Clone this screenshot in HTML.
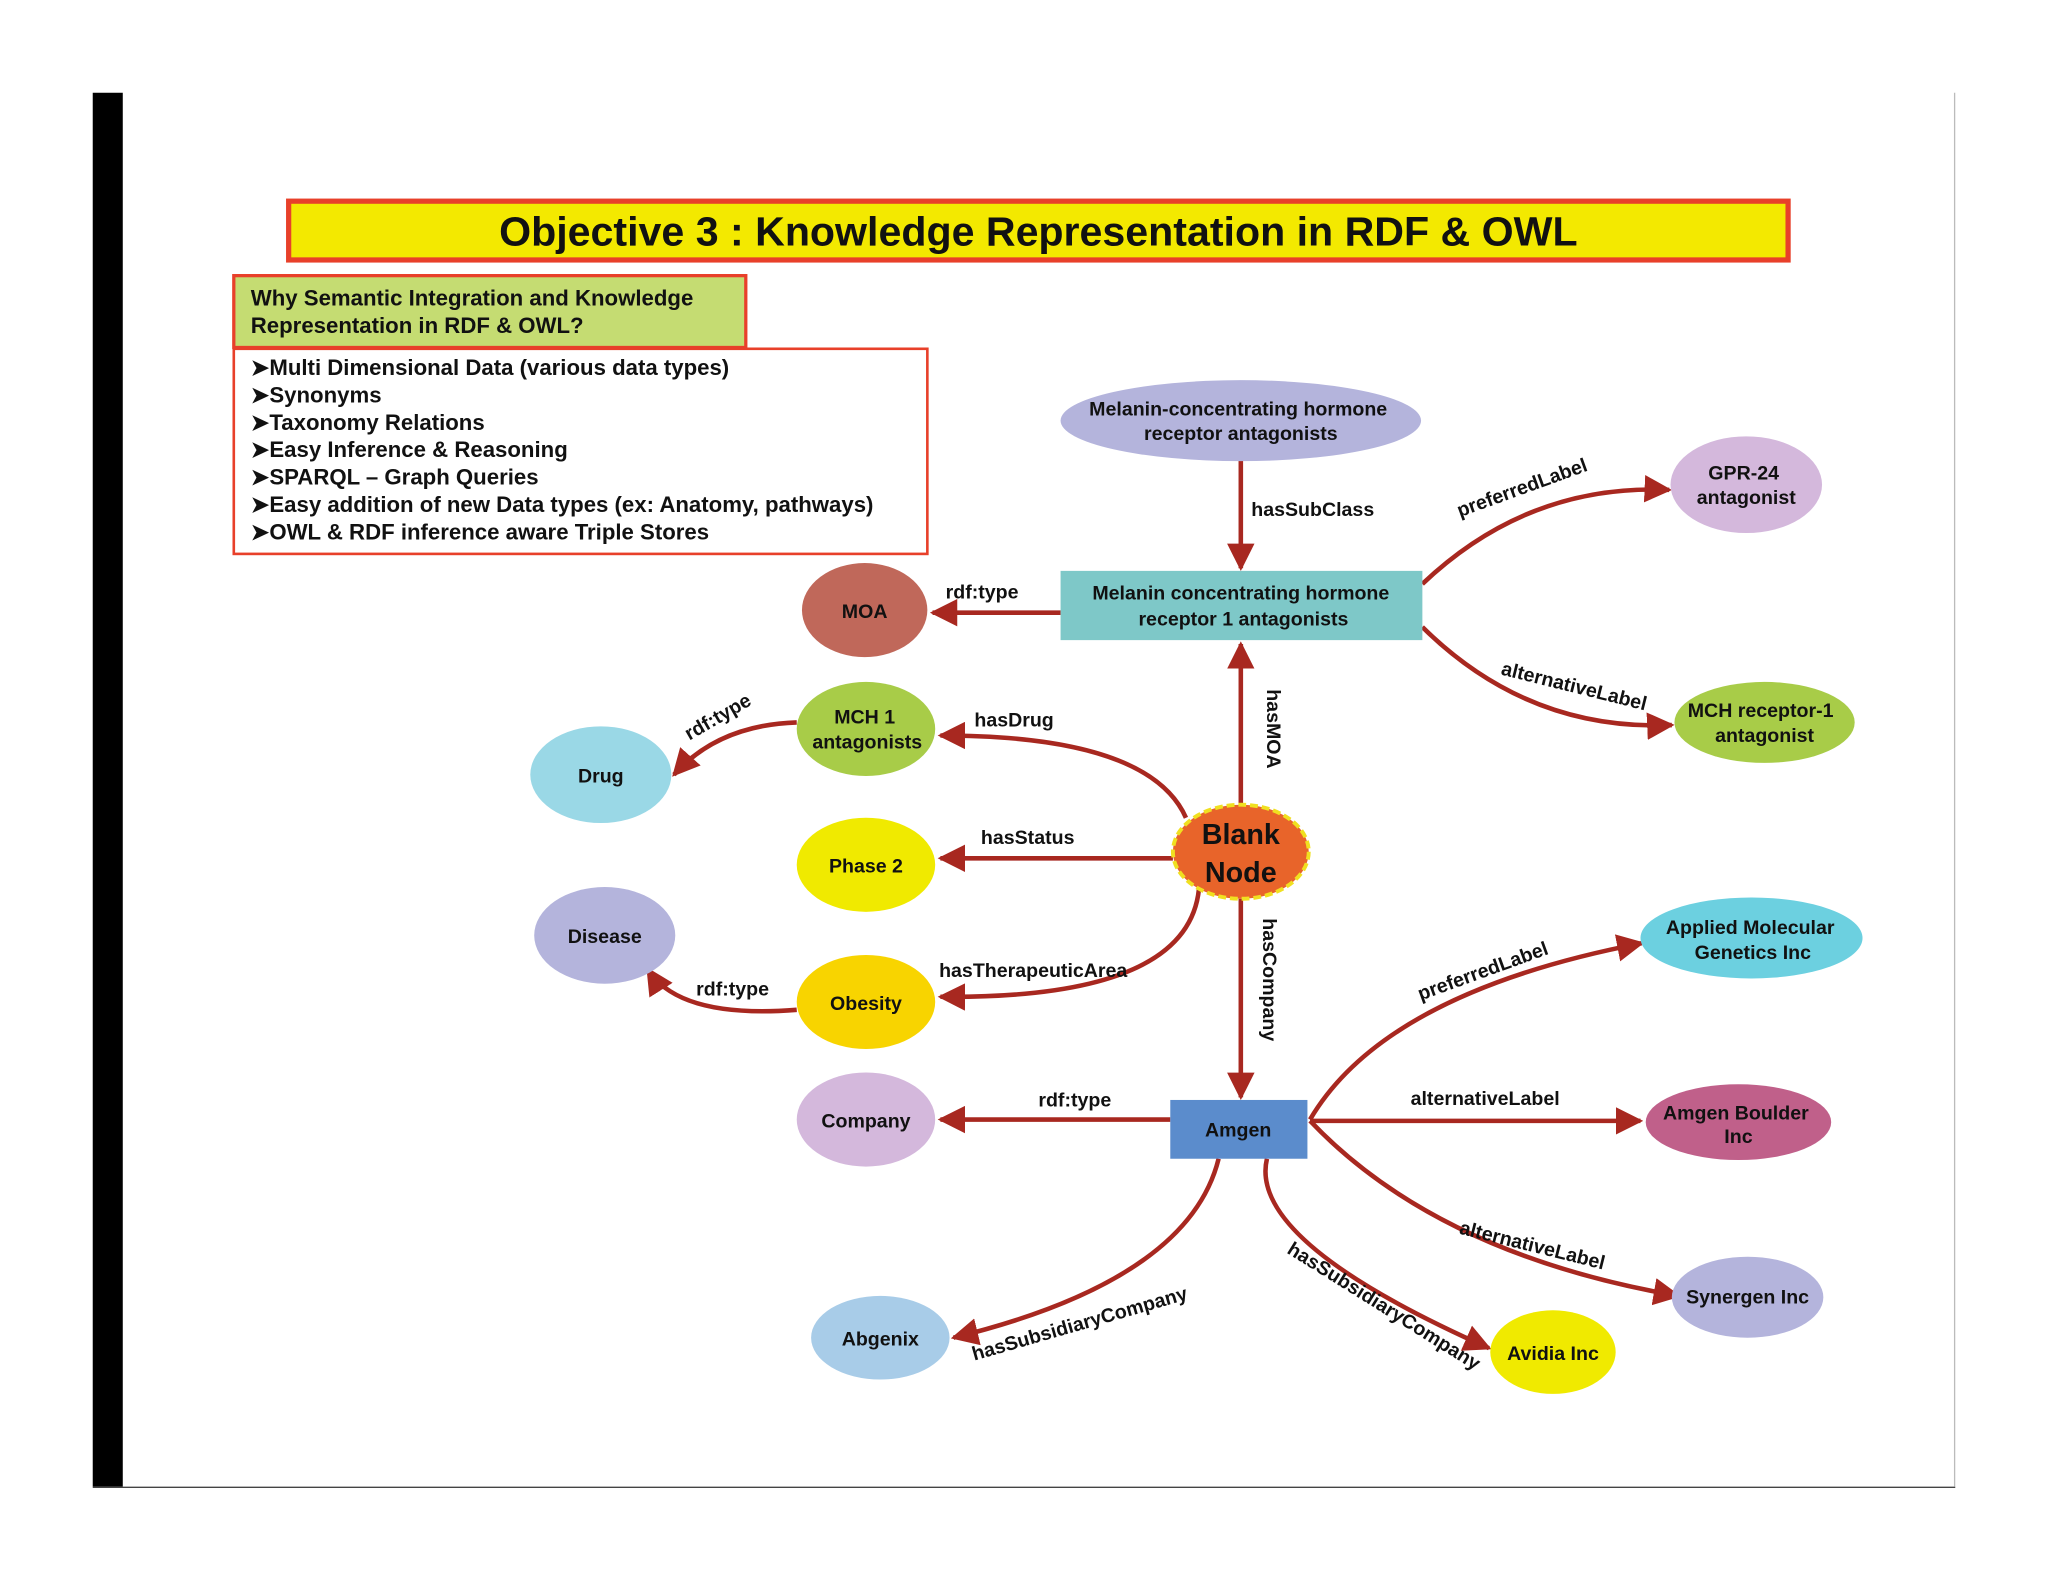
<!DOCTYPE html>
<html><head><meta charset="utf-8"><style>
html,body{margin:0;padding:0;background:#fff}
svg{display:block}
text{font-family:"Liberation Sans",Arial,sans-serif;font-weight:bold;fill:#111}
</style></head><body>
<svg width="2048" height="1582" viewBox="0 0 1568 1211" preserveAspectRatio="none" xmlns="http://www.w3.org/2000/svg">
<defs>
<marker id="a" viewBox="0 0 10 10" refX="9" refY="5" markerWidth="6" markerHeight="6" markerUnits="strokeWidth" orient="auto"><path d="M0,0 L10,5 L0,10 z" fill="#a82820"/></marker>
</defs>
<rect x="71" y="71" width="23" height="1067" fill="#000"/>
<line x1="71" y1="1138.5" x2="1497" y2="1138.5" stroke="#444" stroke-width="1"/>
<line x1="1496.5" y1="71" x2="1496.5" y2="1138" stroke="#bbb" stroke-width="1"/>

<rect x="221" y="154" width="1148" height="45" fill="#f3e900" stroke="#e8402a" stroke-width="4"/>
<text x="795" y="188" font-size="31.5" text-anchor="middle">Objective 3 : Knowledge Representation in RDF &amp; OWL</text>

<rect x="179" y="211" width="392" height="55" fill="#c5dc72" stroke="#e8402a" stroke-width="2.5"/>
<text x="192" y="234" font-size="17">Why Semantic Integration and  Knowledge</text>
<text x="192" y="255" font-size="17">Representation in RDF &amp; OWL?</text>
<rect x="179" y="267" width="531" height="157" fill="#fff" stroke="#e8402a" stroke-width="2"/>
<g font-size="17">
<text x="192" y="287">➤Multi Dimensional Data (various data types)</text>
<text x="192" y="308">➤Synonyms</text>
<text x="192" y="329">➤Taxonomy Relations</text>
<text x="192" y="350">➤Easy Inference &amp; Reasoning</text>
<text x="192" y="371">➤SPARQL – Graph Queries</text>
<text x="192" y="392">➤Easy addition of  new Data types (ex: Anatomy, pathways)</text>
<text x="192" y="413">➤OWL &amp; RDF inference aware Triple Stores</text>
</g>

<g stroke="#a82820" stroke-width="3.5" fill="none" marker-end="url(#a)">
<path d="M950,352 L950,435"/>
<path d="M812,469 L714,469"/>
<path d="M1089,447 Q1170,370 1278,375"/>
<path d="M1089,480 Q1170,560 1280,555"/>
<path d="M950,616 L950,493"/>
<path d="M908,626 Q880,563 720,563"/>
<path d="M610,553 Q550,555 516,593"/>
<path d="M898,657 L720,657"/>
<path d="M918,680 Q910,765 720,763"/>
<path d="M610,773 Q520,780 496,742"/>
<path d="M950,688 L950,840"/>
<path d="M896,857 L720,857"/>
<path d="M1003,857 Q1060,760 1257,722"/>
<path d="M1003,858 L1256,858"/>
<path d="M1003,858 Q1100,960 1285,992"/>
<path d="M933,887 Q910,980 730,1024"/>
<path d="M970,887 Q955,950 1140,1032"/>
</g>

<g font-size="15">
<text x="958" y="395">hasSubClass</text>
<text x="724" y="458">rdf:type</text>
<text x="1167" y="378" text-anchor="middle" transform="rotate(-20 1167 378)">preferredLabel</text>
<text x="1204" y="530" text-anchor="middle" transform="rotate(14 1204 530)">alternativeLabel</text>
<text x="970" y="558" text-anchor="middle" transform="rotate(90 970 558)">hasMOA</text>
<text x="746" y="556">hasDrug</text>
<text x="552" y="553" text-anchor="middle" transform="rotate(-30 552 553)">rdf:type</text>
<text x="751" y="646">hasStatus</text>
<text x="719" y="748">hasTherapeuticArea</text>
<text x="533" y="762">rdf:type</text>
<text x="967" y="750" text-anchor="middle" transform="rotate(90 967 750)">hasCompany</text>
<text x="795" y="847">rdf:type</text>
<text x="1137" y="748" text-anchor="middle" transform="rotate(-20 1137 748)">preferredLabel</text>
<text x="1080" y="846">alternativeLabel</text>
<text x="1172" y="958" text-anchor="middle" transform="rotate(14 1172 958)">alternativeLabel</text>
<text x="828" y="1018" text-anchor="middle" transform="rotate(-16 828 1018)">hasSubsidiaryCompany</text>
<text x="1057" y="1004" text-anchor="middle" transform="rotate(32 1057 1004)">hasSubsidiaryCompany</text>
</g>

<g font-size="15" text-anchor="middle">
<ellipse cx="950" cy="322" rx="138" ry="31" fill="#b4b4dc"/>
<text x="948" y="318">Melanin-concentrating hormone</text><text x="950" y="337">receptor antagonists</text>
<rect x="812" y="437" width="277" height="53" fill="#7ec8c8"/>
<text x="950" y="459">Melanin concentrating hormone</text><text x="952" y="479">receptor 1 antagonists</text>
<ellipse cx="662" cy="467" rx="48" ry="36" fill="#c0685a"/><text x="662" y="473">MOA</text>
<ellipse cx="1337" cy="371" rx="58" ry="37" fill="#d4b8dc"/><text x="1335" y="367">GPR-24</text><text x="1337" y="386">antagonist</text>
<ellipse cx="1351" cy="553" rx="69" ry="31" fill="#a8cc48"/><text x="1348" y="549">MCH receptor-1</text><text x="1351" y="568">antagonist</text>
<ellipse cx="663" cy="558" rx="53" ry="36" fill="#a8cc48"/><text x="662" y="554">MCH 1</text><text x="664" y="573">antagonists</text>
<ellipse cx="460" cy="593" rx="54" ry="37" fill="#9ad8e6"/><text x="460" y="599">Drug</text>
<ellipse cx="663" cy="662" rx="53" ry="36" fill="#f0ea00"/><text x="663" y="668">Phase 2</text>
<ellipse cx="950" cy="652" rx="52" ry="36" fill="#e8642a" stroke="#f0e020" stroke-width="3" stroke-dasharray="6 3"/>
<text x="950" y="646" font-size="22">Blank</text><text x="950" y="675" font-size="22">Node</text>
<ellipse cx="463" cy="716" rx="54" ry="37" fill="#b4b4dc"/><text x="463" y="722">Disease</text>
<ellipse cx="663" cy="767" rx="53" ry="36" fill="#f8d400"/><text x="663" y="773">Obesity</text>
<ellipse cx="1341" cy="718" rx="85" ry="31" fill="#6cd0e0"/><text x="1340" y="715">Applied Molecular</text><text x="1342" y="734">Genetics Inc</text>
<ellipse cx="663" cy="857" rx="53" ry="36" fill="#d4b8dc"/><text x="663" y="863">Company</text>
<rect x="896" y="842" width="105" height="45" fill="#5b8ccc"/><text x="948" y="870">Amgen</text>
<ellipse cx="1331" cy="859" rx="71" ry="29" fill="#c0608a"/><text x="1329" y="857">Amgen Boulder</text><text x="1331" y="875">Inc</text>
<ellipse cx="1338" cy="993" rx="58" ry="31" fill="#b4b4dc"/><text x="1338" y="998">Synergen Inc</text>
<ellipse cx="674" cy="1024" rx="53" ry="32" fill="#a8cce8"/><text x="674" y="1030">Abgenix</text>
<ellipse cx="1189" cy="1035" rx="48" ry="32" fill="#f0ea00"/><text x="1189" y="1041">Avidia Inc</text>
</g>
</svg>
</body></html>
